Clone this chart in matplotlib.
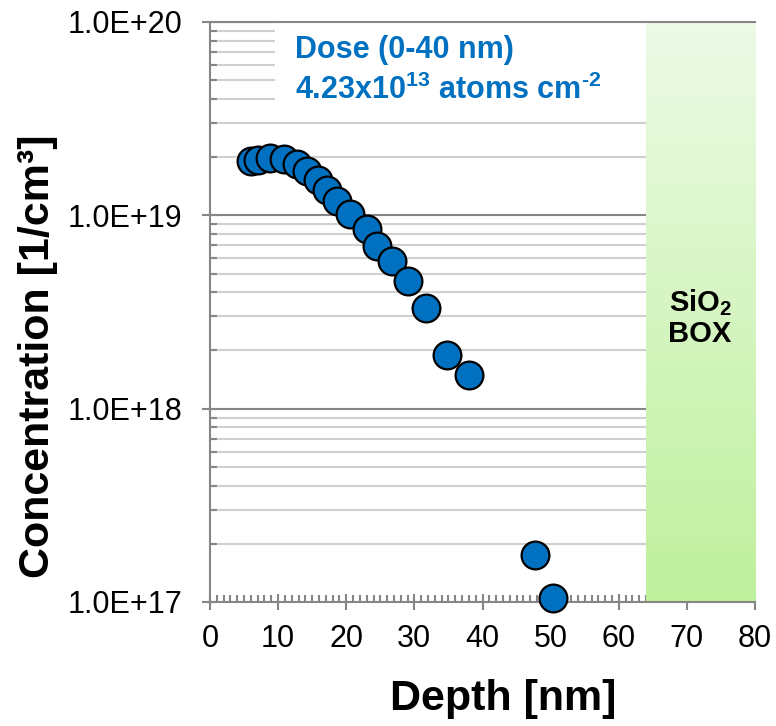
import numpy as np
import matplotlib
matplotlib.use("Agg")
import matplotlib.pyplot as plt
from matplotlib.patches import Rectangle
from matplotlib.ticker import FixedLocator, FuncFormatter, MultipleLocator

plt.rcParams["font.family"] = ["Liberation Sans", "DejaVu Sans"]
plt.rcParams["mathtext.fontset"] = "custom"
plt.rcParams["mathtext.rm"] = "Liberation Sans:bold"
plt.rcParams["mathtext.bf"] = "Liberation Sans:bold"

# profilo di concentrazione
depth = [6.0, 7.1, 8.8, 10.8, 12.7, 14.2, 15.8, 17.2, 18.6, 20.5,
         23.0, 24.5, 26.7, 29.1, 31.7, 34.8, 38.0, 47.7, 50.4]
conc = [1.91e19, 1.93e19, 1.98e19, 1.95e19, 1.84e19, 1.69e19, 1.52e19, 1.35e19,
        1.19e19, 1.02e19, 8.5e18, 6.94e18, 5.8e18, 4.57e18, 3.32e18, 1.90e18,
        1.49e18, 1.75e17, 1.05e17]

box_start = 64
x_max = 80
y_ticks = [1e17, 1e18, 1e19, 1e20]

grey = "#868686"
blue = "#0070C0"

fig = plt.figure(figsize=(7.76, 7.26), dpi=100)
ax = fig.add_axes([0.2706, 0.1708, 0.7024, 0.7989])
ax.set_yscale("log")
ax.set_xlim(0, x_max)
ax.set_ylim(y_ticks[0], y_ticks[-1])

# griglia
minor = [m * 10.0**e for e in range(17, 20) for m in range(2, 10)]
ax.yaxis.set_major_locator(FixedLocator(y_ticks))
ax.yaxis.set_minor_locator(FixedLocator(minor))
ax.yaxis.set_major_formatter(FuncFormatter(lambda v, p: f"{v:.1E}"))
ax.yaxis.set_minor_formatter(FuncFormatter(lambda v, p: ""))
ax.xaxis.set_major_locator(MultipleLocator(10))
ax.xaxis.set_minor_locator(MultipleLocator(1))
ax.set_axisbelow(True)
ax.grid(True, which="major", axis="y", color=grey, lw=1.5)
ax.grid(True, which="minor", axis="y", color="#d0d0d0", lw=1.5)

# zona ossido con gradiente
grad = np.linspace(0, 1, 100).reshape(-1, 1)
cmap = matplotlib.colors.LinearSegmentedColormap.from_list("g", ["#ecfae6", "#bff09d"])
ax.imshow(grad, cmap=cmap, extent=[box_start / x_max, 1, 0, 1], transform=ax.transAxes,
          aspect="auto", origin="upper", zorder=1)
ax.add_patch(Rectangle((0.119, 0.845), box_start / x_max - 0.119, 0.155,
                       transform=ax.transAxes, facecolor="white", edgecolor="none", zorder=1))

ax.plot(depth, conc, "o", ms=20, mfc=blue, mec="black", mew=1.6, ls="none",
        zorder=4, clip_on=False)

ax.spines["right"].set_visible(False)
for s in ["left", "bottom", "top"]:
    ax.spines[s].set_color(grey)
    ax.spines[s].set_linewidth(1.5)

ax.tick_params(which="major", direction="inout", length=12, width=1.5, color=grey,
               labelsize=22)
ax.tick_params(which="minor", direction="in", length=5, width=1.5, color=grey)
ax.tick_params(axis="x", pad=10)
ax.tick_params(axis="y", pad=14)

ax.set_xlabel("Depth [nm]", fontsize=31, fontweight="bold", labelpad=18)
ax.set_ylabel("Concentration [1/cm³]", fontsize=31, fontweight="bold", labelpad=7)
ax.xaxis.label.set_x(0.538)
ax.yaxis.label.set_y(0.424)

ax.text(0.156, 0.952, "Dose (0-40 nm)", transform=ax.transAxes, color=blue,
        fontsize=22, fontweight="bold", va="center", zorder=5)
ax.text(0.156, 0.883, r"4.23x10$^{13}$ atoms cm$^{\text{-2}}$",
        transform=ax.transAxes, color=blue, fontsize=22, fontweight="bold",
        va="center", zorder=5)
ax.text(0.899, 0.49, "SiO$_{2}$\nBOX", transform=ax.transAxes,
        fontsize=21, fontweight="bold", ha="center", va="center",
        linespacing=1.1, zorder=5)

fig.savefig("out.png", dpi=100)
